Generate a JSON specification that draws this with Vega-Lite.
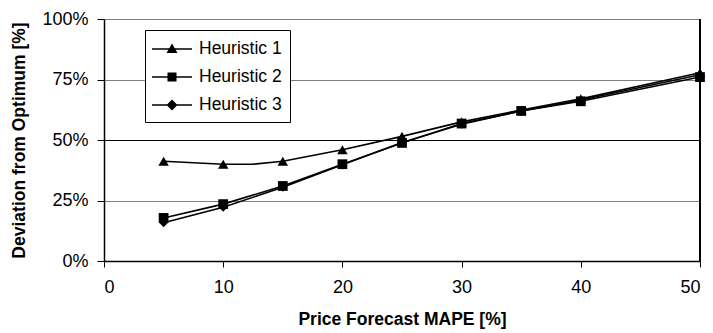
{
  "$schema": "https://vega.github.io/schema/vega-lite/v6.json",
  "width": 596,
  "height": 242,
  "autosize": {"type": "none"},
  "padding": {"left": 104, "top": 19, "right": 13, "bottom": 72},
  "background": "white",
  "config": {
    "view": {"stroke": null},
    "font": "Liberation Sans",
    "axis": {
      "labelFont": "Liberation Sans",
      "labelFontSize": 18,
      "labelColor": "black",
      "titleFont": "Liberation Sans",
      "titleFontSize": 17.5,
      "titleFontWeight": "bold",
      "titleColor": "black",
      "domainColor": "black",
      "tickColor": "black",
      "domainWidth": 1.5
    }
  },
  "data": {
    "values": [
      {"h": "Heuristic 1", "x": 5, "y": 0.412},
      {"h": "Heuristic 1", "x": 10, "y": 0.40},
      {"h": "Heuristic 1", "x": 12.5, "y": 0.40},
      {"h": "Heuristic 1", "x": 15, "y": 0.412},
      {"h": "Heuristic 1", "x": 20, "y": 0.46},
      {"h": "Heuristic 1", "x": 25, "y": 0.515},
      {"h": "Heuristic 1", "x": 30, "y": 0.575},
      {"h": "Heuristic 1", "x": 35, "y": 0.624},
      {"h": "Heuristic 1", "x": 40, "y": 0.67},
      {"h": "Heuristic 1", "x": 50, "y": 0.778},
      {"h": "Heuristic 2", "x": 5, "y": 0.178},
      {"h": "Heuristic 2", "x": 10, "y": 0.235},
      {"h": "Heuristic 2", "x": 15, "y": 0.31},
      {"h": "Heuristic 2", "x": 20, "y": 0.40},
      {"h": "Heuristic 2", "x": 25, "y": 0.488},
      {"h": "Heuristic 2", "x": 30, "y": 0.568},
      {"h": "Heuristic 2", "x": 35, "y": 0.62},
      {"h": "Heuristic 2", "x": 40, "y": 0.66},
      {"h": "Heuristic 2", "x": 50, "y": 0.76},
      {"h": "Heuristic 3", "x": 5, "y": 0.158},
      {"h": "Heuristic 3", "x": 10, "y": 0.222},
      {"h": "Heuristic 3", "x": 15, "y": 0.305},
      {"h": "Heuristic 3", "x": 20, "y": 0.398},
      {"h": "Heuristic 3", "x": 25, "y": 0.49},
      {"h": "Heuristic 3", "x": 30, "y": 0.565},
      {"h": "Heuristic 3", "x": 35, "y": 0.62},
      {"h": "Heuristic 3", "x": 40, "y": 0.665},
      {"h": "Heuristic 3", "x": 50, "y": 0.77}
    ]
  },
  "encoding": {
    "x": {
      "field": "x",
      "type": "quantitative",
      "scale": {"domain": [0, 50], "nice": false},
      "axis": {
        "title": "Price Forecast MAPE [%]",
        "values": [0, 10, 20, 30, 40, 50],
        "grid": false,
        "tickSize": 6,
        "labelPadding": 11,
        "titlePadding": 14
      }
    },
    "y": {
      "field": "y",
      "type": "quantitative",
      "scale": {"domain": [0, 1], "nice": false},
      "axis": {
        "title": "Deviation from Optimum [%]",
        "format": ".0%",
        "values": [0, 0.25, 0.5, 0.75, 1],
        "grid": true,
        "gridColor": {"condition": {"test": "datum.value === 0.5", "value": "black"}, "value": "#7f7f7f"},
        "gridOpacity": 1,
        "gridWidth": 1,
        "tickSize": 7,
        "labelPadding": 9,
        "titlePadding": 13
      }
    }
  },
  "layer": [
    {
      "mark": {"type": "rule", "color": "black", "strokeWidth": 1.5},
      "encoding": {"x": {"datum": 50}, "y": {"datum": 0}, "y2": {"datum": 1}}
    },
    {
      "mark": {"type": "line", "color": "black", "strokeWidth": 1.6},
      "encoding": {"detail": {"field": "h"}}
    },
    {
      "transform": [{"filter": "datum.x % 5 === 0"}],
      "mark": {"type": "point", "filled": true, "color": "black", "opacity": 1},
      "encoding": {
        "shape": {
          "field": "h",
          "type": "nominal",
          "scale": {"domain": ["Heuristic 1", "Heuristic 2", "Heuristic 3"], "range": ["triangle-up", "square", "diamond"]},
          "legend": null
        },
        "size": {
          "field": "h",
          "type": "nominal",
          "scale": {"domain": ["Heuristic 1", "Heuristic 2", "Heuristic 3"], "range": [110, 81, 121]},
          "legend": null
        }
      }
    },
    {
      "mark": {"type": "point", "filled": true, "color": "black", "opacity": 0},
      "encoding": {
        "shape": {
          "field": "h",
          "type": "nominal",
          "scale": {
            "domain": ["Heuristic 1", "Heuristic 2", "Heuristic 3"],
            "range": [
              "M-2,-0.08L2,-0.08L2,0.08L-2,0.08ZM0,-0.55L0.55,0.4L-0.55,0.4Z",
              "M-2,-0.08L2,-0.08L2,0.08L-2,0.08ZM-0.45,-0.45L0.45,-0.45L0.45,0.45L-0.45,0.45Z",
              "M-2,-0.08L2,-0.08L2,0.08L-2,0.08ZM0,-0.55L0.55,0L0,0.55L-0.55,0Z"
            ]
          },
          "legend": {
            "title": null,
            "orient": "none",
            "legendX": 41,
            "legendY": 11,
            "symbolSize": 400,
            "symbolFillColor": "black",
            "symbolOpacity": 1,
            "symbolOffset": 8,
            "labelOffset": 16,
            "labelFont": "Liberation Sans",
            "labelFontSize": 17.5,
            "labelColor": "black",
            "padding": 8,
            "rowPadding": 8,
            "strokeColor": "black",
            "fillColor": "white",
            "encode": {
              "symbols": {
                "update": {
                  "fill": {"value": "black"},
                  "fillOpacity": {"value": 1},
                  "opacity": {"value": 1}
                }
              }
            }
          }
        }
      }
    }
  ],
  "resolve": {"scale": {"shape": "independent"}}
}
